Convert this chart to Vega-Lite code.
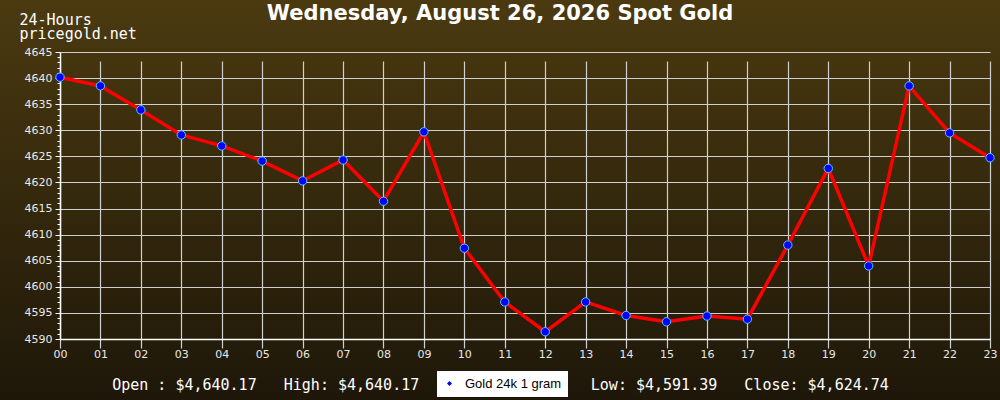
{
  "$schema": "https://vega.github.io/schema/vega-lite/v6.json",
  "width": 1000,
  "height": 400,
  "autosize": "none",
  "padding": 0,
  "background": "#1e1709",
  "title": {
    "text": "Wednesday, August 26, 2026 Spot Gold",
    "font": "DejaVu Sans",
    "fontSize": 21,
    "fontWeight": "bold",
    "color": "#ffffff",
    "anchor": "middle",
    "baseline": "alphabetic",
    "offset": -41
  },
  "config": {
    "view": {
      "stroke": null,
      "fill": {
        "gradient": "linear",
        "x1": 0, "y1": 0, "x2": 0, "y2": 1,
        "stops": [
          {"offset": 0, "color": "#4b3a10"},
          {"offset": 1, "color": "#1e1709"}
        ]
      }
    }
  },
  "data": {
    "values": [
      {"hour": "00", "price": 4640.17, "series": "Gold 24k 1 gram"},
      {"hour": "01", "price": 4638.5, "series": "Gold 24k 1 gram"},
      {"hour": "02", "price": 4633.9, "series": "Gold 24k 1 gram"},
      {"hour": "03", "price": 4629.1, "series": "Gold 24k 1 gram"},
      {"hour": "04", "price": 4627.0, "series": "Gold 24k 1 gram"},
      {"hour": "05", "price": 4624.1, "series": "Gold 24k 1 gram"},
      {"hour": "06", "price": 4620.3, "series": "Gold 24k 1 gram"},
      {"hour": "07", "price": 4624.3, "series": "Gold 24k 1 gram"},
      {"hour": "08", "price": 4616.4, "series": "Gold 24k 1 gram"},
      {"hour": "09", "price": 4629.7, "series": "Gold 24k 1 gram"},
      {"hour": "10", "price": 4607.4, "series": "Gold 24k 1 gram"},
      {"hour": "11", "price": 4597.1, "series": "Gold 24k 1 gram"},
      {"hour": "12", "price": 4591.39, "series": "Gold 24k 1 gram"},
      {"hour": "13", "price": 4597.1, "series": "Gold 24k 1 gram"},
      {"hour": "14", "price": 4594.5, "series": "Gold 24k 1 gram"},
      {"hour": "15", "price": 4593.3, "series": "Gold 24k 1 gram"},
      {"hour": "16", "price": 4594.4, "series": "Gold 24k 1 gram"},
      {"hour": "17", "price": 4593.8, "series": "Gold 24k 1 gram"},
      {"hour": "18", "price": 4608.0, "series": "Gold 24k 1 gram"},
      {"hour": "19", "price": 4622.7, "series": "Gold 24k 1 gram"},
      {"hour": "20", "price": 4604.0, "series": "Gold 24k 1 gram"},
      {"hour": "21", "price": 4638.5, "series": "Gold 24k 1 gram"},
      {"hour": "22", "price": 4629.5, "series": "Gold 24k 1 gram"},
      {"hour": "23", "price": 4624.74, "series": "Gold 24k 1 gram"}
    ]
  },
  "encoding": {
    "x": {
      "field": "hour",
      "type": "ordinal",
      "sort": null,
      "scale": {"type": "point", "padding": 0, "range": [60, 990]},
      "axis": {
        "offset": -61,
        "title": "Open : $4,640.17\u00a0\u00a0\u00a0High: $4,640.17\u00a0\u00a0\u00a0\u00a0\u00a0\u00a0\u00a0\u00a0\u00a0\u00a0\u00a0\u00a0\u00a0\u00a0\u00a0\u00a0\u00a0\u00a0\u00a0Low: $4,591.39\u00a0\u00a0\u00a0Close: $4,624.74",
        "titleFont": "DejaVu Sans Mono",
        "titleFontSize": 15,
        "titleFontWeight": "normal",
        "titleColor": "#ffffff",
        "titleX": 500,
        "titleY": 50,
        "titleAlign": "center",
        "titleBaseline": "alphabetic",
        "labelAngle": 0,
        "labelFont": "DejaVu Sans",
        "labelFontSize": 11,
        "labelColor": "#e8e8e8",
        "labelPadding": 9,
        "tickSize": 0,
        "domainColor": "#ffffff",
        "domainWidth": 1.5,
        "grid": true,
        "gridColor": "#cfcfcf",
        "gridWidth": 1.2
      }
    },
    "y": {
      "field": "price",
      "type": "quantitative",
      "scale": {"domain": [4590, 4645], "nice": false, "zero": false, "range": [339, 52]},
      "axis": {
        "offset": -60,
        "title": ["24-Hours", "pricegold.net"],
        "titleFont": "DejaVu Sans Mono",
        "titleFontSize": 15,
        "titleFontWeight": "normal",
        "titleColor": "#ffffff",
        "titleAngle": 0,
        "titleAlign": "left",
        "titleBaseline": "alphabetic",
        "titleX": -41,
        "titleY": 24,
        "titleLineHeight": 14,
        "values": [4590, 4591, 4592, 4593, 4594, 4595, 4596, 4597, 4598, 4599, 4600, 4601, 4602, 4603, 4604, 4605, 4606, 4607, 4608, 4609, 4610, 4611, 4612, 4613, 4614, 4615, 4616, 4617, 4618, 4619, 4620, 4621, 4622, 4623, 4624, 4625, 4626, 4627, 4628, 4629, 4630, 4631, 4632, 4633, 4634, 4635, 4636, 4637, 4638, 4639, 4640, 4641, 4642, 4643, 4644, 4645],
        "labelExpr": "datum.value % 5 === 0 ? datum.label : ''",
        "labelOverlap": false,
        "format": "d",
        "labelFont": "DejaVu Sans",
        "labelFontSize": 11,
        "labelColor": "#e8e8e8",
        "labelPadding": 3,
        "tickColor": "#ffffff",
        "tickSize": {"condition": {"test": "datum.value % 5 === 0", "value": 5}, "value": 3},
        "domainColor": "#ffffff",
        "domainWidth": 1.5,
        "grid": true,
        "gridColor": {"condition": {"test": "datum.value % 5 === 0", "value": "#cfcfcf"}, "value": null},
        "gridWidth": 1.2
      }
    }
  },
  "layer": [
    {
      "mark": {"type": "line", "color": "#ff0000", "strokeWidth": 3.5}
    },
    {
      "mark": {"type": "point", "filled": true, "shape": "circle", "size": 70, "opacity": 1, "stroke": "#55c8ff", "strokeWidth": 1},
      "encoding": {
        "color": {
          "field": "series",
          "type": "nominal",
          "scale": {"range": ["#0000ff"]},
          "legend": {
            "title": null,
            "orient": "none",
            "legendX": 437,
            "legendY": 371,
            "fillColor": "#ffffff",
            "padding": 6,
            "symbolType": "diamond",
            "symbolSize": 25,
            "symbolStrokeWidth": 0,
            "labelFont": "Liberation Sans",
            "labelFontSize": 13,
            "labelColor": "#000000",
            "labelOffset": 9
          }
        }
      }
    }
  ]
}
